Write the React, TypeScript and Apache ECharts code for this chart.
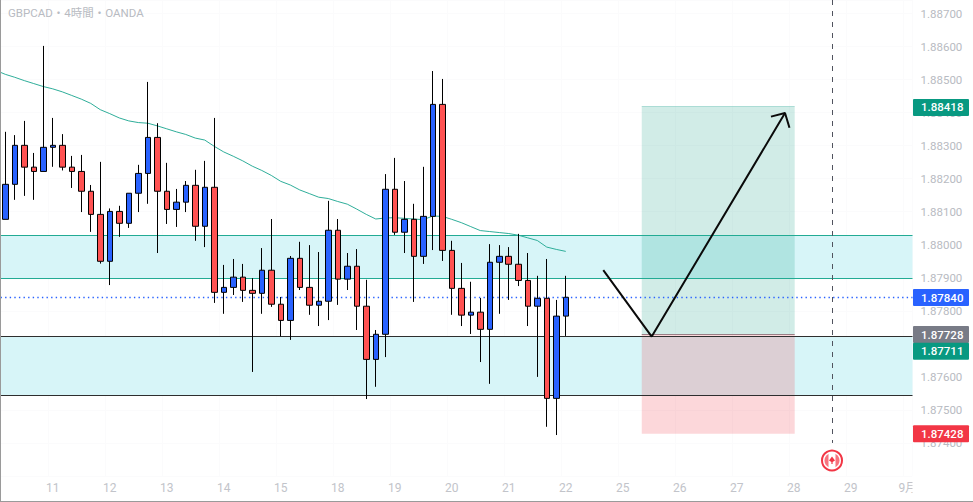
import React, { useEffect, useRef } from "react";
import * as echarts from "echarts";

const TITLE = "GBPCAD・4時間・OANDA";
const dayLabels = ["11", "12", "13", "14", "15", "18", "19", "20", "21", "22", "25", "26", "27", "28", "29", "9月"];

const opens = [
  1.88077, 1.88183, 1.88301, 1.88235, 1.88222, 1.88295, 1.88301, 1.88235, 1.88222, 1.88162,
  1.88092, 1.8795, 1.88101, 1.88065, 1.88156, 1.88216, 1.88325, 1.88162, 1.88107, 1.88129,
  1.8818, 1.88056, 1.88174, 1.87856, 1.87871, 1.87902, 1.87862, 1.87853, 1.87923, 1.8782,
  1.87771, 1.87959, 1.87871, 1.87817, 1.87829, 1.88044, 1.87896, 1.87935, 1.87814, 1.87653,
  1.87729, 1.88168, 1.88038, 1.88077, 1.87965, 1.88086, 1.88425, 1.87983, 1.87868, 1.87787,
  1.87796, 1.87744, 1.87947, 1.87965, 1.87941, 1.87892, 1.87814, 1.87838, 1.87535, 1.87784,
];
const closes = [
  1.88183, 1.88301, 1.88235, 1.88222, 1.88295, 1.88301, 1.88235, 1.88222, 1.88162, 1.88092,
  1.8795, 1.88101, 1.88065, 1.88156, 1.88216, 1.88325, 1.88162, 1.88107, 1.88129, 1.8818,
  1.88056, 1.88174, 1.87856, 1.87871, 1.87902, 1.87862, 1.87853, 1.87923, 1.8782, 1.87771,
  1.87959, 1.87871, 1.87817, 1.87829, 1.88044, 1.87896, 1.87935, 1.87814, 1.87653, 1.87729,
  1.88168, 1.88038, 1.88077, 1.87965, 1.88086, 1.88425, 1.87983, 1.87868, 1.87787, 1.87796,
  1.87744, 1.87947, 1.87965, 1.87941, 1.87892, 1.87814, 1.87838, 1.87535, 1.87784, 1.87841,
];
const lows = [
  1.88077, 1.88136, 1.88148, 1.88136, 1.88222, 1.88236, 1.88225, 1.88172, 1.88099, 1.88039,
  1.87943, 1.87878, 1.88024, 1.88051, 1.88099, 1.88124, 1.87975, 1.88063, 1.88054, 1.88099,
  1.88012, 1.87993, 1.87824, 1.87791, 1.87848, 1.87827, 1.87615, 1.87791, 1.87812, 1.87723,
  1.87712, 1.87863, 1.87788, 1.87754, 1.87772, 1.87818, 1.87863, 1.87742, 1.87533, 1.8757,
  1.8766, 1.8803, 1.87975, 1.87827, 1.87942, 1.87984, 1.87951, 1.87788, 1.87754, 1.8773,
  1.87645, 1.87579, 1.87791, 1.87833, 1.87875, 1.87754, 1.876, 1.87449, 1.87424, 1.87724,
];
const highs = [
  1.88342, 1.88332, 1.88375, 1.88278, 1.88602, 1.88384, 1.88335, 1.88269, 1.88272, 1.88181,
  1.88251, 1.8811, 1.88118, 1.88156, 1.88242, 1.88493, 1.88368, 1.88248, 1.88169, 1.88193,
  1.88227, 1.88254, 1.88384, 1.87939, 1.87957, 1.87942, 1.87899, 1.8799, 1.88078, 1.87842,
  1.87966, 1.88009, 1.87999, 1.87978, 1.88133, 1.88078, 1.87975, 1.87987, 1.87894, 1.87742,
  1.88214, 1.88263, 1.88193, 1.88124, 1.88236, 1.88526, 1.88502, 1.88012, 1.87945, 1.87888,
  1.87839, 1.88002, 1.87999, 1.87993, 1.88033, 1.87975, 1.87906, 1.87957, 1.87833, 1.87906,
];
const maStart = 1.88522;
const maValues = [
  1.88516, 1.88507, 1.88497, 1.88488, 1.88479, 1.88472, 1.88463, 1.88452, 1.88441, 1.88428,
  1.88409, 1.88397, 1.88384, 1.88375, 1.8837, 1.88368, 1.8836, 1.88351, 1.88342, 1.88334,
  1.88323, 1.88317, 1.88298, 1.88281, 1.88268, 1.88254, 1.88238, 1.88225, 1.8821, 1.88192,
  1.88181, 1.88166, 1.88155, 1.88144, 1.8814, 1.88131, 1.88123, 1.88108, 1.88092, 1.88078,
  1.88081, 1.88082, 1.8808, 1.88078, 1.88076, 1.88087, 1.88086, 1.88077, 1.88067, 1.88055,
  1.88043, 1.8804, 1.88037, 1.88034, 1.88029, 1.88021, 1.88013, 1.87993, 1.87986, 1.8798,
];

const zoneUpper = [1.88029, 1.87899];
const zoneLower = [1.87723, 1.87544];
const currentPrice = 1.8784;
const entryPrice = 1.87728;
const targetPrice = 1.88418;
const stopPrice = 1.87428;
const entrySlots = [67.5, 83.6];
const eventSlot = 87.55;
const eventLineEnd = 1.874;

const arrowPath = [[63.45, 1.87923], [68.55, 1.87722], [82.58, 1.88399]];
const arrowHead = [[81.1, 1.88388], [82.58, 1.88399], [83.05, 1.88354]];

const priceTags = [
  { value: 1.88418, text: "1.88418", color: "#089981", shift: 0.7 },
  { value: 1.8784, text: "1.87840", color: "#2962ff", shift: 0 },
  { value: 1.87728, text: "1.87728", color: "#787b86", shift: 0 },
  { value: 1.87711, text: "1.87711", color: "#089981", shift: 11 },
  { value: 1.87428, text: "1.87428", color: "#f23645", shift: 0 },
];

const SLOTS = 96;
const LABEL_FONT = "Roboto, 'Noto Sans CJK JP', sans-serif";
const axisGrey = "#b8bbc2";
const isDayTick = (i: number) => i % 6 === 5;

export default function App() {
  const ref = useRef<HTMLDivElement>(null);

  useEffect(() => {
    document.body.style.margin = "0";
    const chart = echarts.init(ref.current!, undefined, { renderer: "svg" });
    const categories = Array.from({ length: SLOTS }, (_, i) =>
      isDayTick(i) ? dayLabels[(i - 5) / 6] : `s${i}`
    );

    const option: any = {
      animation: false,
      backgroundColor: "#ffffff",
      title: {
        text: TITLE,
        left: 8,
        top: 7,
        padding: 0,
        textStyle: { color: axisGrey, fontSize: 11.5, fontWeight: 400, fontFamily: LABEL_FONT },
      },
      grid: { left: 0.5, top: 0, width: 912, height: 476 },
      xAxis: [
        {
          type: "category",
          data: categories,
          boundaryGap: true,
          axisLine: { show: false },
          axisTick: { show: false, alignWithLabel: true, interval: (i: number) => isDayTick(i) },
          axisLabel: {
            interval: (i: number) => isDayTick(i),
            color: "#c2c4ca",
            fontSize: 12,
            fontFamily: LABEL_FONT,
            margin: 6,
            hideOverlap: false,
          },
          splitLine: { show: true, interval: (i: number) => isDayTick(i), lineStyle: { color: "#fbfbfc", width: 1 } },
        },
        { type: "value", min: 0, max: SLOTS, show: false, splitLine: { show: false } },
      ],
      yAxis: {
        type: "value",
        position: "right",
        min: 1.873,
        max: 1.88741,
        interval: 0.001,
        scale: true,
        axisLine: { show: false },
        axisTick: { show: false },
        axisLabel: {
          color: axisGrey,
          fontSize: 11.5,
          fontFamily: LABEL_FONT,
          margin: 8,
          showMinLabel: false,
          showMaxLabel: false,
          formatter: (v: number) => v.toFixed(5),
        },
        splitLine: { show: true, lineStyle: { color: "#fbfbfc", width: 1 } },
      },
      series: [
        {
          name: "EMA",
          type: "line",
          xAxisIndex: 1,
          z: 1.8,
          symbol: "none",
          smooth: false,
          lineStyle: { color: "#2fae9a", width: 1 },
          data: [[0, maStart], ...maValues.map((v, i) => [i + 0.5, v])],
          markArea: {
            silent: true,
            z: 1,
            data: [
              [
                { yAxis: zoneUpper[0], itemStyle: { color: "#d7f5f8" } },
                { yAxis: zoneUpper[1] },
              ],
              [
                { yAxis: zoneLower[0], itemStyle: { color: "#d7f5f8" } },
                { yAxis: zoneLower[1] },
              ],
              [
                { xAxis: entrySlots[0], yAxis: targetPrice, itemStyle: { color: "rgba(8,153,129,0.19)" } },
                { xAxis: entrySlots[1], yAxis: entryPrice },
              ],
              [
                { xAxis: entrySlots[0], yAxis: entryPrice, itemStyle: { color: "rgba(242,54,69,0.2)" } },
                { xAxis: entrySlots[1], yAxis: stopPrice },
              ],
            ],
          },
          markLine: {
            silent: true,
            z: 1.5,
            precision: 5,
            symbol: "none",
            label: { show: false },
            data: [
              { yAxis: zoneUpper[0], lineStyle: { color: "#22ab94", width: 1.2, type: "solid" } },
              { yAxis: zoneUpper[1], lineStyle: { color: "#22ab94", width: 1.2, type: "solid" } },
              { yAxis: zoneLower[0], lineStyle: { color: "#2e2e2e", width: 1.2, type: "solid" } },
              { yAxis: zoneLower[1], lineStyle: { color: "#2e2e2e", width: 1.2, type: "solid" } },
              { yAxis: currentPrice, lineStyle: { color: "#2962ff", width: 1.4, type: [1.4, 3.2] } },
              [
                { coord: [entrySlots[0], targetPrice], lineStyle: { color: "rgba(8,153,129,0.3)", width: 1, type: "solid" } },
                { coord: [entrySlots[1], targetPrice] },
              ],
              [
                { coord: [entrySlots[0], entryPrice], lineStyle: { color: "#9a7f86", width: 1, type: "solid" } },
                { coord: [entrySlots[1], entryPrice] },
              ],
              [
                { coord: [eventSlot, 1.88741], lineStyle: { color: "#50535e", width: 1, type: [5, 6] } },
                { coord: [eventSlot, eventLineEnd] },
              ],
            ],
          },
        },
        {
          name: "GBPCAD",
          type: "candlestick",
          xAxisIndex: 0,
          z: 2,
          barWidth: 6,
          itemStyle: {
            color: "#2962ff",
            color0: "#ff5252",
            borderColor: "#000000",
            borderColor0: "#000000",
            borderWidth: 1,
          },
          data: opens.map((o, i) => [o, closes[i], lows[i], highs[i]]),
        },
        {
          name: "arrow",
          type: "line",
          xAxisIndex: 1,
          z: 4,
          symbol: "none",
          lineStyle: { color: "#0a0a0a", width: 2 },
          data: arrowPath,
        },
        {
          name: "arrowHead",
          type: "line",
          xAxisIndex: 1,
          z: 4,
          symbol: "none",
          lineStyle: { color: "#0a0a0a", width: 2 },
          data: arrowHead,
        },
      ],
    };
    chart.setOption(option);

    const tagEls = priceTags.map((t) => {
      const y = (chart.convertToPixel({ yAxisIndex: 0 }, t.value) as number) + t.shift;
      return {
        type: "group",
        z: 20,
        children: [
          { type: "rect", z: 20, shape: { x: 913, y: y - 8.5, width: 56, height: 17, r: 1 }, style: { fill: t.color } },
          {
            type: "text",
            z: 21,
            style: {
              x: 921,
              y,
              text: t.text,
              fill: "#ffffff",
              font: `500 11.5px ${LABEL_FONT}`,
              verticalAlign: "middle",
            },
          },
        ],
      };
    });

    const eventX = 832;
    const eventY = 460.5;
    chart.setOption({
      graphic: [
        { type: "rect", z: 19, shape: { x: 912.5, y: 470, width: 60.5, height: 31 }, style: { fill: "#ffffff" } },
        { type: "rect", z: 30, shape: { x: 0, y: 0, width: 1, height: 502 }, style: { fill: "#9a9a9a" } },
        { type: "rect", z: 30, shape: { x: 0, y: 501, width: 973, height: 1 }, style: { fill: "#9a9a9a" } },
        ...tagEls,
        { type: "circle", z: 20, shape: { cx: eventX, cy: eventY, r: 10 }, style: { fill: "#ffffff", stroke: "#f23645", lineWidth: 2 } },
        { type: "circle", z: 21, shape: { cx: eventX, cy: eventY, r: 7.5 }, style: { fill: "#f8737e" } },
        { type: "rect", z: 22, shape: { x: eventX - 3.5, y: eventY - 8, width: 7, height: 16 }, style: { fill: "#ffffff" } },
        {
          type: "polygon",
          z: 23,
          shape: { points: [[eventX, eventY - 4], [eventX + 3, eventY], [eventX + 0.6, eventY + 1.5], [eventX + 0.6, eventY + 3.5], [eventX - 0.6, eventY + 3.5], [eventX - 0.6, eventY + 1.5], [eventX - 3, eventY]] },
          style: { fill: "#f23645" },
        },
      ],
    });

    return () => chart.dispose();
  }, []);

  return <div ref={ref} style={{ position: "fixed", left: 0, top: 0, width: 973, height: 502 }} />;
}
